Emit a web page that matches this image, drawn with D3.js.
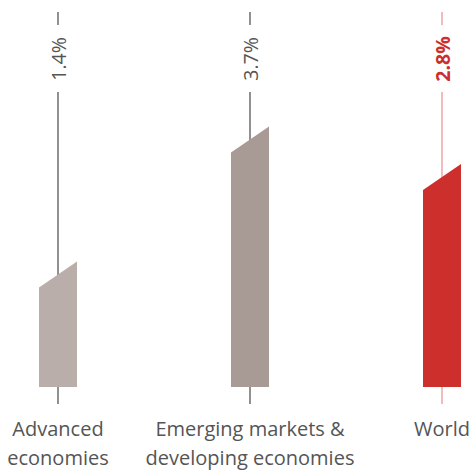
<!DOCTYPE html>
<html>
<head>
<meta charset="utf-8">
<script src="https://cdn.jsdelivr.net/npm/d3@7"></script>
<style>
  body { margin: 0; background: #fff; }
</style>
</head>
<body>
<div id="chart"></div>
<script>
// growth labels and bar levels
var categories = ["Advanced economies", "Emerging markets & developing economies", "World"]
var labelLines = [["Advanced", "economies"], ["Emerging markets &", "developing economies"], ["World"]]
var growth = [1.4, 3.7, 2.8]
var barLevel = [1.5, 3.3, 2.8]
var barFill = ["#b9aeaa", "#a89b96", "#cc2f2c"]
var lineColor = ["#555", "#555", "#e8999a"]
var textColor = ["#555", "#555", "#cc2f2c"]

var width = 470
var height = 470

var svg = d3.select("#chart")
    .append("svg")
    .attr("width", width)
    .attr("height", height)

var x = d3.scalePoint()
    .domain(categories)
    .range([58, 442])

var y = d3.scaleLinear()
    .domain([0, 4])
    .range([387, 87])

var barW = 38
var skew = 13

var g = svg.selectAll("g.cat")
    .data(categories)
    .join("g")
    .attr("class", "cat")
    .attr("transform", d => `translate(${x(d)},0)`)

// the stem: top tick, gap for the label, then down through the bar
g.append("line")
    .attr("x1", 0).attr("x2", 0)
    .attr("y1", 12).attr("y2", 25)
    .attr("stroke", (d, i) => lineColor[i])
    .attr("stroke-width", 1.3)

g.append("line")
    .attr("x1", 0).attr("x2", 0)
    .attr("y1", 92).attr("y2", 404)
    .attr("stroke", (d, i) => lineColor[i])
    .attr("stroke-width", 1.3)

g.append("text")
    .attr("transform", "translate(8,59) rotate(-90)")
    .attr("text-anchor", "middle")
    .attr("font-family", "'Open Sans', sans-serif")
    .attr("font-size", 19.5)
    .attr("font-weight", (d, i) => i === 2 ? "bold" : "normal")
    .attr("fill", (d, i) => textColor[i])
    .text((d, i) => growth[i].toFixed(1) + "%")

// bars with a slanted top
g.append("path")
    .attr("fill", (d, i) => barFill[i])
    .attr("d", (d, i) => {
        var yc = y(barLevel[i])
        var y0 = y(0)
        return `M${-barW / 2},${y0}L${-barW / 2},${yc + skew}L${barW / 2},${yc - skew}L${barW / 2},${y0}Z`
    })

// category labels
g.append("text")
    .attr("text-anchor", "middle")
    .attr("font-family", "'Open Sans', sans-serif")
    .attr("font-size", 20)
    .attr("fill", "#555")
    .selectAll("tspan")
    .data((d, i) => labelLines[i])
    .join("tspan")
    .attr("x", 0)
    .attr("y", (d, j) => 436 + j * 29)
    .text(d => d)
</script>
</body>
</html>
